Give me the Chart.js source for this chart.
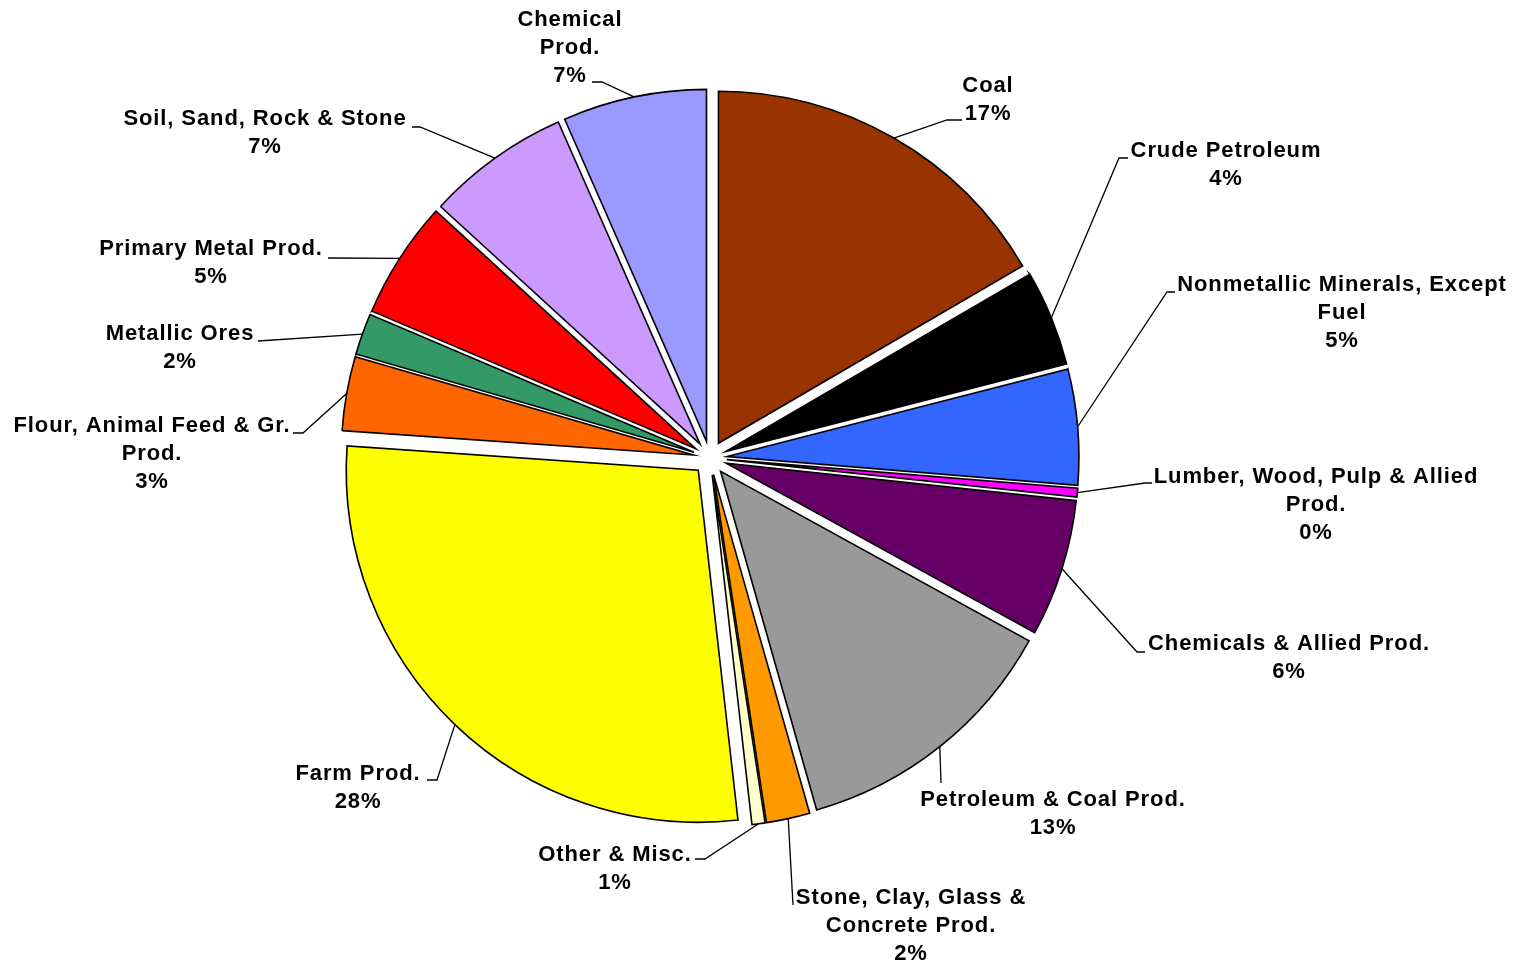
<!DOCTYPE html>
<html>
<head>
<meta charset="utf-8">
<title>Tonnage by commodity</title>
<script src="https://cdn.jsdelivr.net/npm/chart.js"></script>
<style>
  html, body { margin: 0; padding: 0; background: #fff; }
  #freightPie { display: block; }
</style>
</head>
<body>
<canvas id="freightPie" width="1522" height="966"></canvas>
<script>
// commodity groups, clockwise from 12 o'clock (label lines as drawn)
var categories = [
  ['Coal'],
  ['Crude Petroleum'],
  ['Nonmetallic Minerals, Except', 'Fuel'],
  ['Lumber, Wood, Pulp & Allied', 'Prod.'],
  ['Chemicals & Allied Prod.'],
  ['Petroleum & Coal Prod.'],
  ['Stone, Clay, Glass &', 'Concrete Prod.'],
  ['Other & Misc.'],
  ['Farm Prod.'],
  ['Flour, Animal Feed & Gr.', 'Prod.'],
  ['Metallic Ores'],
  ['Primary Metal Prod.'],
  ['Soil, Sand, Rock & Stone'],
  ['Chemical', 'Prod.']
];

// share of total tonnage, percent
var shares = [16.6, 4.4, 5.3, 0.4, 6.3, 12.6, 2.0, 0.6, 27.9, 3.4, 1.9, 5.4, 6.6, 6.6];

var sliceColors = [
  '#993300', '#000000', '#3366FF', '#FF00FF', '#660066', '#999999', '#FF9900',
  '#FFFFCC', '#FFFF00', '#FF6600', '#339966', '#FF0000', '#CC99FF', '#9999FF'
];

// label block: centre x, first line y, leader elbow x, elbow y, end of short tick
var labelSpots = [
  [988, 86, 947, 120, 962],
  [1226, 151, 1119, 158, 1128],
  [1342, 285, 1167, 292, 1175],
  [1316, 477, 1145, 483, 1152],
  [1289, 644, 1137, 652, 1145],
  [1053, 800, 941, 783, 941],
  [911, 898, 793, 905, 793],
  [615, 855, 705, 859, 695],
  [358, 774, 437, 780, 427],
  [152, 426, 303, 433, 293],
  [180, 334, 258, 341, 258],
  [211, 249, 328, 258, 328],
  [265, 119, 420, 127, 412],
  [570, 20, 602, 82, 592]
];

var EXPLODE = 17;   // px each slice is pulled out
var LINE_H = 28;

// pull every slice out along its mid angle while the arcs are drawn
var explodePlugin = {
  id: 'explode',
  beforeDatasetsDraw: function(chart) {
    chart.getDatasetMeta(0).data.forEach(function(arc) {
      var mid = (arc.startAngle + arc.endAngle) / 2;
      arc._home = [arc.x, arc.y];
      arc.x += Math.cos(mid) * EXPLODE;
      arc.y += Math.sin(mid) * EXPLODE;
    });
  },
  afterDatasetsDraw: function(chart) {
    chart.getDatasetMeta(0).data.forEach(function(arc) {
      arc.x = arc._home[0];
      arc.y = arc._home[1];
    });
  }
};

// category + percent labels with leader lines to the arc middle
var labelPlugin = {
  id: 'outerLabels',
  afterDraw: function(chart) {
    var ctx = chart.ctx;
    var total = shares.reduce(function(a, b) { return a + b; }, 0);
    ctx.save();
    ctx.strokeStyle = '#000';
    ctx.lineWidth = 1.3;
    ctx.fillStyle = '#000';
    ctx.font = 'bold 22px "Liberation Sans", Arial, sans-serif';
    ctx.letterSpacing = '0.9px';
    ctx.textAlign = 'center';
    ctx.textBaseline = 'middle';
    chart.getDatasetMeta(0).data.forEach(function(arc, i) {
      var mid = (arc.startAngle + arc.endAngle) / 2;
      var r = arc.outerRadius + EXPLODE;
      var px = arc.x + Math.cos(mid) * r;
      var py = arc.y + Math.sin(mid) * r;
      var s = labelSpots[i];
      ctx.beginPath();
      ctx.moveTo(px, py);
      ctx.lineTo(s[2], s[3]);
      ctx.lineTo(s[4], s[3]);
      ctx.stroke();
      var lines = categories[i].concat([Math.round(shares[i] / total * 100) + '%']);
      lines.forEach(function(t, k) {
        ctx.fillText(t, s[0], s[1] + k * LINE_H);
      });
    });
    ctx.restore();
  }
};

new Chart(document.getElementById('freightPie'), {
  type: 'pie',
  data: {
    labels: categories.map(function(c) { return c.join(' '); }),
    datasets: [{
      data: shares,
      backgroundColor: sliceColors,
      borderColor: '#000',
      borderWidth: 1.6,
      borderJoinStyle: 'miter'
    }]
  },
  options: {
    responsive: false,
    animation: false,
    events: [],
    radius: 352,
    layout: { padding: { left: 250, right: 352, top: 60, bottom: 110 } },
    plugins: {
      legend: { display: false },
      tooltip: { enabled: false }
    }
  },
  plugins: [explodePlugin, labelPlugin]
});
</script>
</body>
</html>
